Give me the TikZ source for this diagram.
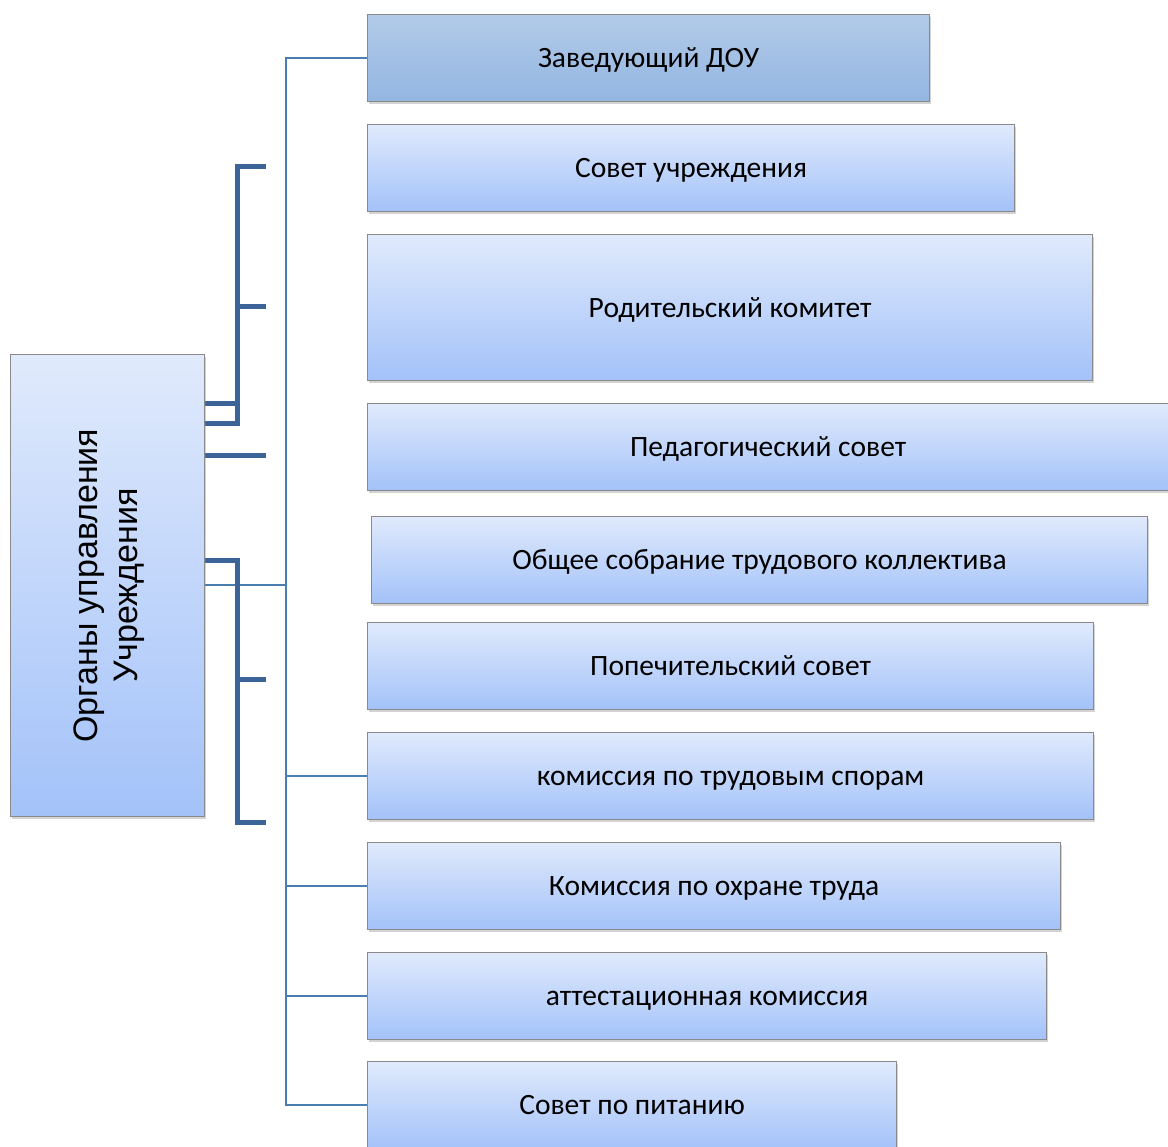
\documentclass[tikz,border=0pt]{standalone}
\usepackage{fontspec}
\setmainfont{Carlito}
\newfontfamily\sidefont{Liberation Sans}
\usetikzlibrary{shadows}
\pgfdeclarelayer{edgelayer}
\pgfdeclarelayer{nodelayer}
\pgfsetlayers{edgelayer,nodelayer,main}
\definecolor{boxtop}{RGB}{224,234,252}
\definecolor{boxbottom}{RGB}{163,194,249}
\definecolor{headtop}{RGB}{178,202,232}
\definecolor{headbottom}{RGB}{147,182,226}
\definecolor{boxborder}{RGB}{138,138,138}
\definecolor{linkblue}{RGB}{74,126,176}
\definecolor{bracketblue}{RGB}{60,100,152}
\tikzstyle{organ}=[draw=boxborder,line width=1.2pt,top color=boxtop,bottom color=boxbottom,anchor=north west,inner sep=0pt,text height=23pt,text depth=4pt,drop shadow={shadow xshift=1.5pt,shadow yshift=-2pt,opacity=0.35},font=\fontsize{29.5}{34}\selectfont]
\tikzstyle{head}=[organ,top color=headtop,bottom color=headbottom]
\tikzstyle{side_text}=[inner sep=0pt,align=center,font=\sidefont\fontsize{34}{40}\selectfont]
\tikzstyle{link}=[draw=linkblue,line width=2.2pt]
\tikzstyle{bracket}=[draw=bracketblue,line width=5pt]

\begin{document}
\begin{tikzpicture}[x=1pt,y=-1pt]
	\useasboundingbox (0,0) rectangle (1168,1147);
	\begin{pgfonlayer}{nodelayer}
		\node [style=organ, text height=, text depth=, minimum width=194pt, minimum height=462pt] (0) at (10, 354) {};
		\node [style={side_text}, rotate=90] (1) at ([xshift=2pt]0.center) {Органы управления\\Учреждения};
		\node [style=head, minimum width=562pt, minimum height=87pt] (2) at (367, 14) {Заведующий ДОУ};
		\node [style=organ, minimum width=647pt, minimum height=87pt] (3) at (367, 124) {Совет учреждения};
		\node [style=organ, minimum width=725pt, minimum height=146pt] (4) at (367, 234) {Родительский комитет};
		\node [style=organ, minimum width=801pt, minimum height=87pt] (5) at (367, 403) {Педагогический совет};
		\node [style=organ, minimum width=776pt, minimum height=87pt] (6) at (371, 516) {Общее собрание трудового коллектива};
		\node [style=organ, minimum width=726pt, minimum height=87pt] (7) at (367, 622) {Попечительский совет};
		\node [style=organ, minimum width=726pt, minimum height=87pt] (8) at (367, 732) {комиссия по трудовым спорам};
		\node [style=organ, minimum width=693pt, minimum height=87pt] (9) at (367, 842) {Комиссия по охране труда};
		\node [style=organ, minimum width=679pt, minimum height=87pt] (10) at (367, 952) {аттестационная комиссия};
		\node [style=organ, minimum width=529pt, minimum height=87pt] (11) at (367, 1061) {Совет по питанию};
	\end{pgfonlayer}
	\coordinate (12) at (286, 585);
	\coordinate (13) at (237, 167);
	\coordinate (14) at (266, 167);
	\coordinate (15) at (237, 307);
	\coordinate (16) at (266, 307);
	\coordinate (17) at (266, 456);
	\coordinate (18) at (237, 560);
	\coordinate (19) at (237, 822);
	\coordinate (20) at (266, 822);
	\coordinate (21) at (237, 679);
	\coordinate (22) at (266, 679);
	\begin{pgfonlayer}{edgelayer}
		\draw [style=link] (0.east |- 12) -- (12);
		\draw [style=link] (2.west) -| (12);
		\foreach \n in {8,9,10,11}
			\draw [style=link] (\n.west) -| (12);
		\draw [style=bracket] (0.east |- 0,404) -| (13) -- (14);
		\draw [style=bracket] (0.east |- 0,424) -| (15);
		\draw [style=bracket] (15) -- (16);
		\draw [style=bracket] (0.east |- 0,456) -- (17);
		\draw [style=bracket] (0.east |- 0,560) -| (19) -- (20);
		\draw [style=bracket] (21) -- (22);
	\end{pgfonlayer}
\end{tikzpicture}
\end{document}
